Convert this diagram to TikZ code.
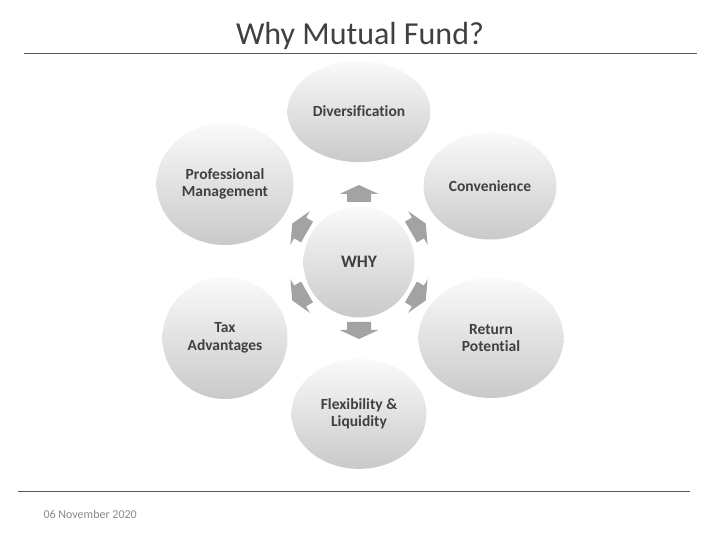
\documentclass[tikz,border=0pt]{standalone}
\usepackage{fontspec}
\setmainfont{Carlito}[Ligatures={NoCommon,NoDiscretionary}]
\usepackage{tikz}
\usetikzlibrary{shapes.geometric, positioning}
\definecolor{txt-gray}{RGB}{64,64,64}
\definecolor{rule-gray}{RGB}{89,89,89}
\definecolor{date-gray}{RGB}{137,137,137}

\begin{document}
\begin{tikzpicture}[
  x=1pt, y=1pt,
  bubble/.style={ellipse, draw=none, top color=black!2, bottom color=black!21,
                 align=center, inner sep=0pt, text=txt-gray,
                 font=\fontsize{15.5}{17.5}\selectfont\bfseries},
  chevron/.style={fill=black!36},
  rulel/.style={draw=rule-gray, line width=1pt},
]
\useasboundingbox (0,0) rectangle (720,540);

% Titulo
\node[anchor=base, text=txt-gray, font=\fontsize{32}{38}\selectfont] (title) at (360,495) {Why Mutual Fund?};
\draw[rulel] (24,486) -- (697,486);

% Centro
\node[bubble, minimum width=111pt, minimum height=111pt, font=\fontsize{17.5}{20}\selectfont\bfseries] (why) at (359,278) {WHY};

% Bolhas (acima / abaixo)
\node[bubble, minimum width=143pt, minimum height=101pt, above=44pt of why] (div) {Diversification};
\node[bubble, minimum width=135pt, minimum height=110pt, below=41pt of why] (flex) {Flexibility \&\\Liquidity};

% Bolhas (esquerda / direita)
\node[bubble, minimum width=137pt, minimum height=122pt] (prof) at (225,356) {Professional\\Management};
\node[bubble, minimum width=133pt, minimum height=107pt] (conv) at (490,354) {Convenience};
\node[bubble, minimum width=125pt, minimum height=122pt] (tax) at (225,202) {Tax\\Advantages};
\node[bubble, minimum width=145pt, minimum height=120pt] (ret) at (491,202) {Return\\Potential};

% Setas em volta do centro
\foreach \ang in {90,30,-30,-90,-150,150}
  \fill[chevron, shift={(why.center)}, rotate=\ang]
    (60,-12) -- (68,-12) -- (68,-19.5) -- (77,0) -- (68,19.5) -- (68,12) -- (60,12) -- cycle;

% Rodape
\draw[rulel] (18,48) -- (690,48);
\node[anchor=base west, text=date-gray, font=\fontsize{12}{14}\selectfont] (date) at (40,21) {06 November 2020};

\end{tikzpicture}
\end{document}
